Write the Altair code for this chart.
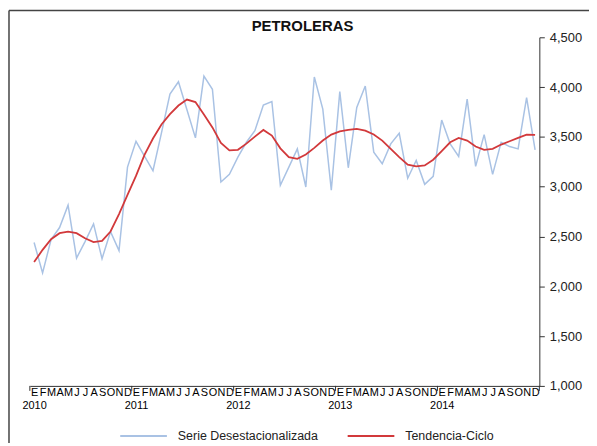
import json
import altair as alt
import pandas as pd

# ---- data ----
MONTH_LETTERS = ["E", "F", "M", "A", "M", "J", "J", "A", "S", "O", "N", "D"]
YEARS = [2010, 2011, 2012, 2013, 2014]

SERIE_DESEST = [
    2439, 2134, 2470, 2590, 2815, 2283, 2449, 2626, 2277, 2549, 2359, 3197,
    3456, 3307, 3160, 3540, 3929, 4054, 3772, 3490, 4111, 3978, 3047, 3124,
    3297, 3446, 3563, 3819, 3855, 3014, 3197, 3380, 2997, 4101, 3779, 2964,
    3955, 3190, 3795, 4011, 3347, 3231, 3430, 3536, 3085, 3264, 3024, 3104,
    3669, 3430, 3304, 3879, 3204, 3523, 3124, 3446, 3403, 3380, 3895, 3370,
]
TENDENCIA = [
    2243, 2366, 2473, 2533, 2549, 2533, 2483, 2443, 2456, 2550, 2725, 2918,
    3108, 3320, 3484, 3625, 3729, 3815, 3875, 3850, 3725, 3595, 3440, 3365,
    3370, 3432, 3503, 3570, 3513, 3385, 3297, 3280, 3323, 3390, 3463, 3523,
    3556, 3570, 3580, 3563, 3525, 3463, 3380, 3297, 3222, 3204, 3214, 3271,
    3357, 3446, 3490, 3463, 3403, 3370, 3380, 3423, 3456, 3490, 3523, 3520,
]
Y_TICKS = [1000, 1500, 2000, 2500, 3000, 3500, 4000, 4500]
SERIES_NAMES = ["Serie Desestacionalizada", "Tendencia-Ciclo"]
COLORS = ["#a9c2e4", "#d2393b"]

W, H = 513, 351
FONT = "Liberation Sans"
n = len(SERIE_DESEST)

df = pd.DataFrame({
    "idx": list(range(n)) * 2,
    "valor": SERIE_DESEST + TENDENCIA,
    "serie": [SERIES_NAMES[0]] * n + [SERIES_NAMES[1]] * n,
})

letters_js = json.dumps(MONTH_LETTERS)
years_js = json.dumps([str(y) for y in YEARS])
label_expr = (
    f"datum.value % 12 == 0 ? [{letters_js}[datum.value % 12], "
    f"{years_js}[floor(datum.value / 12)]] : {letters_js}[datum.value % 12]"
)

x_enc = alt.X(
    "idx:Q",
    title=None,
    scale=alt.Scale(domain=[-0.5, n - 0.5], nice=False, zero=False),
    axis=alt.Axis(
        values=list(range(n)), labelExpr=label_expr, ticks=False, grid=False,
        labelOverlap=False, labelFlush=False, labelAlign="center",
        labelBaseline="top", labelPadding=1, labelFontSize=11,
        labelLineHeight=13, labelFont=FONT, labelColor="#000",
        domainColor="#333", domainWidth=1,
    ),
)
y_enc = alt.Y(
    "valor:Q",
    title=None,
    scale=alt.Scale(domain=[1000, 4500], nice=False, zero=False),
    axis=alt.Axis(
        orient="right", values=Y_TICKS, format=",.0f", grid=False,
        labelFontSize=13, labelFont=FONT, labelColor="#222", labelPadding=5,
        tickSize=5, tickColor="#333", domainColor="#333", domainWidth=1,
    ),
)
color_enc = alt.Color(
    "serie:N",
    scale=alt.Scale(domain=SERIES_NAMES, range=COLORS),
    legend=alt.Legend(
        title=None, orient="none", legendX=90, legendY=377,
        direction="horizontal", symbolType="stroke", symbolSize=2209,
        symbolStrokeWidth=2, labelFontSize=12.5, labelFont=FONT,
        labelColor="#222", labelOffset=10, columnPadding=25,
    ),
)

blue = alt.Chart(df).transform_filter(
    alt.datum.serie == SERIES_NAMES[0]
).mark_line(strokeWidth=1.5).encode(x=x_enc, y=y_enc, color=color_enc)

red = alt.Chart(df).transform_filter(
    alt.datum.serie == SERIES_NAMES[1]
).mark_line(strokeWidth=1.8).encode(x=x_enc, y=y_enc, color=color_enc)

ticks_df = pd.DataFrame({"idx": [i * 12 - 0.5 for i in range(len(YEARS) + 1)]})
year_ticks = alt.Chart(ticks_df).mark_rule(color="#333", strokeWidth=1).encode(
    x=x_enc, y=alt.value(H), y2=alt.value(H + 5)
)

frame_df = pd.DataFrame({"k": [0]})
frame_left = alt.Chart(frame_df).mark_rule(color="#444", strokeWidth=1.5).encode(
    x=alt.value(-21), y=alt.value(-27), y2=alt.value(H + 60)
)
frame_top = alt.Chart(frame_df).mark_rule(color="#444", strokeWidth=1.5).encode(
    y=alt.value(-27), x=alt.value(-21), x2=alt.value(W + 60)
)

chart = alt.layer(frame_left, frame_top, blue, red, year_ticks).properties(
    width=W,
    height=H,
    title=alt.TitleParams(
        "PETROLERAS", font=FONT, fontSize=15, fontWeight="bold",
        color="#111", anchor="middle", dx=18, dy=24, offset=0,
    ),
    padding={"left": 22, "top": 28, "right": 50, "bottom": 56},
    autosize=alt.AutoSizeParams(type="none"),
).configure_view(stroke=None)

chart.save("out.html", embed_options={"renderer": "svg", "actions": False})
